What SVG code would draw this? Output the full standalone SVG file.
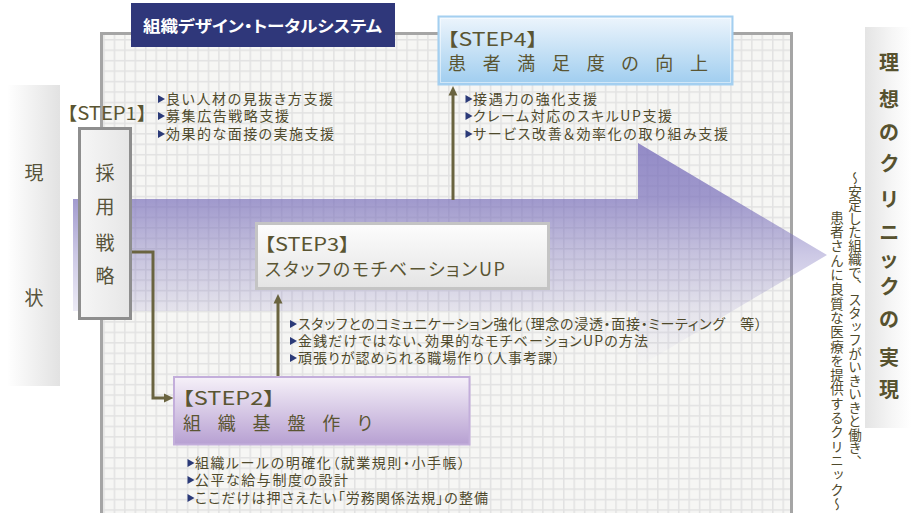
<svg xmlns="http://www.w3.org/2000/svg" width="911" height="513" viewBox="0 0 911 513">
<style>
text{font-family:"Noto Sans CJK JP","Noto Sans",sans-serif;font-feature-settings:"palt";}
.b{font-size:14px;fill:#4f4a2c;}
.h{font-size:18px;fill:#5a5532;}
.v{font-size:19px;fill:#57533a;text-anchor:middle;}
.r{font-size:20px;font-weight:bold;fill:#57522f;text-anchor:middle;}
.sub{font-size:13.5px;fill:#4f4a2c;writing-mode:vertical-rl;font-feature-settings:normal;}
.con{stroke:#6a6440;stroke-width:3;fill:none;}
.ah{fill:#6a6440;}
</style>
<defs>
<pattern id="grid" x="103.2" y="39" width="10.45" height="10.45" patternUnits="userSpaceOnUse">
<rect width="10.45" height="10.45" fill="#e2e2e2"/>
<rect x="1.5" y="1.5" width="8.95" height="8.95" fill="#f6f6f4"/>
</pattern>
<linearGradient id="arrowG" gradientUnits="userSpaceOnUse" x1="0" y1="143" x2="0" y2="367">
<stop offset="0" stop-color="#7a70bb" stop-opacity="0.8"/>
<stop offset="0.25" stop-color="#7a70bb" stop-opacity="0.7"/>
<stop offset="0.5" stop-color="#7a70bb" stop-opacity="0.38"/>
<stop offset="0.75" stop-color="#7a70bb" stop-opacity="0.14"/>
<stop offset="1" stop-color="#7a70bb" stop-opacity="0"/>
</linearGradient>
<linearGradient id="leftG" x1="0" y1="0" x2="1" y2="0">
<stop offset="0" stop-color="#ffffff"/>
<stop offset="1" stop-color="#e2e2e2"/>
</linearGradient>
<linearGradient id="rightG" x1="0" y1="0" x2="1" y2="0">
<stop offset="0" stop-color="#e4e4e4"/>
<stop offset="0.6" stop-color="#f6f6f6"/>
<stop offset="1" stop-color="#ffffff"/>
</linearGradient>
<linearGradient id="s1G" x1="0" y1="0" x2="1" y2="0">
<stop offset="0" stop-color="#f6f6f6"/>
<stop offset="1" stop-color="#e6e6e6"/>
</linearGradient>
<linearGradient id="s4G" x1="0" y1="0" x2="0" y2="1">
<stop offset="0" stop-color="#edf5fc"/>
<stop offset="1" stop-color="#9fcdef"/>
</linearGradient>
<linearGradient id="s3G" x1="0" y1="0" x2="0" y2="1">
<stop offset="0" stop-color="#fdfdfd"/>
<stop offset="1" stop-color="#e4e4e4"/>
</linearGradient>
<linearGradient id="s2G" x1="0" y1="0" x2="0" y2="1">
<stop offset="0" stop-color="#f6f1f9"/>
<stop offset="1" stop-color="#b7a0d2"/>
</linearGradient>
<path id="tri" d="M0,-4 L7,0 L0,4 Z" fill="#2b3a78"/>
</defs>

<rect width="911" height="513" fill="#ffffff"/>

<!-- grid panel -->
<g id="panel">
<rect x="101.5" y="33.5" width="690" height="500" fill="url(#grid)" stroke="#a5a5a5" stroke-width="3"/>
</g>

<!-- big arrow -->
<g id="bigArrow">
<path d="M73,199 L638,199 L638,143 L827,255 L638,367 L638,311 L73,311 Z" fill="url(#arrowG)"/>
</g>

<!-- title -->
<g id="title">
<rect x="131" y="3" width="264" height="44" fill="#2f377a"/>
<text x="143" y="32" font-size="16" font-weight="bold" fill="#ffffff" textLength="239" lengthAdjust="spacingAndGlyphs">組織デザイン・トータルシステム</text>
</g>

<!-- left: current state -->
<g id="genjo">
<rect x="7" y="85" width="53" height="301" fill="url(#leftG)"/>
<text class="v" x="34" y="180">現</text>
<text class="v" x="34" y="305">状</text>
</g>

<!-- right: ideal -->
<g id="riso">
<rect x="865" y="27" width="46" height="401" fill="url(#rightG)"/>
<text class="r" x="889" y="70">理</text>
<text class="r" x="889" y="107">想</text>
<text class="r" x="889" y="140">の</text>
<text class="r" x="889" y="171">ク</text>
<text class="r" x="889" y="207">リ</text>
<text class="r" x="889" y="240">ニ</text>
<text class="r" x="889" y="267">ッ</text>
<text class="r" x="889" y="294">ク</text>
<text class="r" x="889" y="327">の</text>
<text class="r" x="889" y="365">実</text>
<text class="r" x="889" y="397">現</text>
</g>
<g id="subtitle">
<text class="sub" x="855" y="171.5">～安定した組織で、スタッフがいきいきと働き、</text>
<text class="sub" x="837" y="211" letter-spacing="0.8">患者さんに良質な医療を提供するクリニック～</text>
</g>

<!-- connectors -->
<g id="connectors">
<polyline class="con" points="132,252 153,252 153,398 165,398"/>
<polygon class="ah" points="164,393.5 173.5,398 164,402.5"/>
<line class="con" x1="278" y1="376" x2="278" y2="303"/>
<polygon class="ah" points="273.5,303.5 278,294 282.5,303.5"/>
<line class="con" x1="453" y1="200" x2="453" y2="95"/>
<polygon class="ah" points="448.5,95.5 453,86 457.5,95.5"/>
</g>

<!-- STEP1 -->
<g id="step1">
<text class="h" x="67" y="119.5" textLength="80" lengthAdjust="spacingAndGlyphs">【STEP1】</text>
<rect x="79.5" y="128.5" width="51" height="190" fill="url(#s1G)" stroke="#8e8e8e" stroke-width="3"/>
<text class="v" x="105" y="180">採</text>
<text class="v" x="105" y="214">用</text>
<text class="v" x="105" y="250">戦</text>
<text class="v" x="105" y="283">略</text>
<use href="#tri" x="158" y="99"/>
<text class="b" x="166" y="104" textLength="167" lengthAdjust="spacing">良い人材の見抜き方支援</text>
<use href="#tri" x="158" y="116"/>
<text class="b" x="166" y="121" textLength="123" lengthAdjust="spacing">募集広告戦略支援</text>
<use href="#tri" x="158" y="134"/>
<text class="b" x="166" y="139" textLength="168" lengthAdjust="spacing">効果的な面接の実施支援</text>
</g>

<!-- STEP4 -->
<g id="step4">
<rect x="438.5" y="16.5" width="294" height="68" fill="url(#s4G)" stroke="#a4cff0" stroke-width="2"/>
<rect x="440.5" y="18.5" width="290" height="64" fill="none" stroke="#ffffff" stroke-opacity="0.5" stroke-width="1"/>
<text class="h" x="447" y="46" textLength="91" lengthAdjust="spacingAndGlyphs">【STEP4】</text>
<text class="h" x="448" y="70" textLength="260" lengthAdjust="spacing">患 者 満 足 度 の 向 上</text>
<use href="#tri" x="465.5" y="99"/>
<text class="b" x="473" y="104" textLength="124" lengthAdjust="spacing">接遇力の強化支援</text>
<use href="#tri" x="465.5" y="116"/>
<text class="b" x="473" y="121" textLength="199" lengthAdjust="spacing">クレーム対応のスキルUP支援</text>
<use href="#tri" x="465.5" y="134"/>
<text class="b" x="473" y="139" textLength="255" lengthAdjust="spacing">サービス改善＆効率化の取り組み支援</text>
</g>

<!-- STEP3 -->
<g id="step3">
<rect x="256.5" y="223.5" width="292" height="65" fill="url(#s3G)" stroke="#c4c4c4" stroke-width="3"/>
<text class="h" x="264" y="250.5" textLength="86" lengthAdjust="spacingAndGlyphs">【STEP3】</text>
<text class="h" x="265" y="276" textLength="240" lengthAdjust="spacing">スタッフのモチベーションUP</text>
<use href="#tri" x="290" y="324"/>
<text class="b" x="298" y="329" textLength="464" lengthAdjust="spacing">スタッフとのコミュニケーション強化（理念の浸透・面接・ミーティング　等）</text>
<use href="#tri" x="290" y="341"/>
<text class="b" x="298" y="346" textLength="350" lengthAdjust="spacing">金銭だけではない、効果的なモチベーションUPの方法</text>
<use href="#tri" x="290" y="358"/>
<text class="b" x="298" y="363" textLength="262" lengthAdjust="spacing">頑張りが認められる職場作り（人事考課）</text>
</g>

<!-- STEP2 -->
<g id="step2">
<rect x="174" y="377" width="295.5" height="67.5" fill="url(#s2G)" stroke="#c3aedb" stroke-width="2"/>
<text class="h" x="182" y="404.5" textLength="93" lengthAdjust="spacingAndGlyphs">【STEP2】</text>
<text class="h" x="183" y="430" textLength="189" lengthAdjust="spacing">組 織 基 盤 作 り</text>
<use href="#tri" x="187.5" y="463"/>
<text class="b" x="195" y="468" textLength="270" lengthAdjust="spacing">組織ルールの明確化（就業規則・小手帳）</text>
<use href="#tri" x="187.5" y="480"/>
<text class="b" x="195" y="485" textLength="153" lengthAdjust="spacing">公平な給与制度の設計</text>
<use href="#tri" x="187.5" y="498"/>
<text class="b" x="195" y="503" textLength="293" lengthAdjust="spacing">ここだけは押さえたい「労務関係法規」の整備</text>
</g>
</svg>
